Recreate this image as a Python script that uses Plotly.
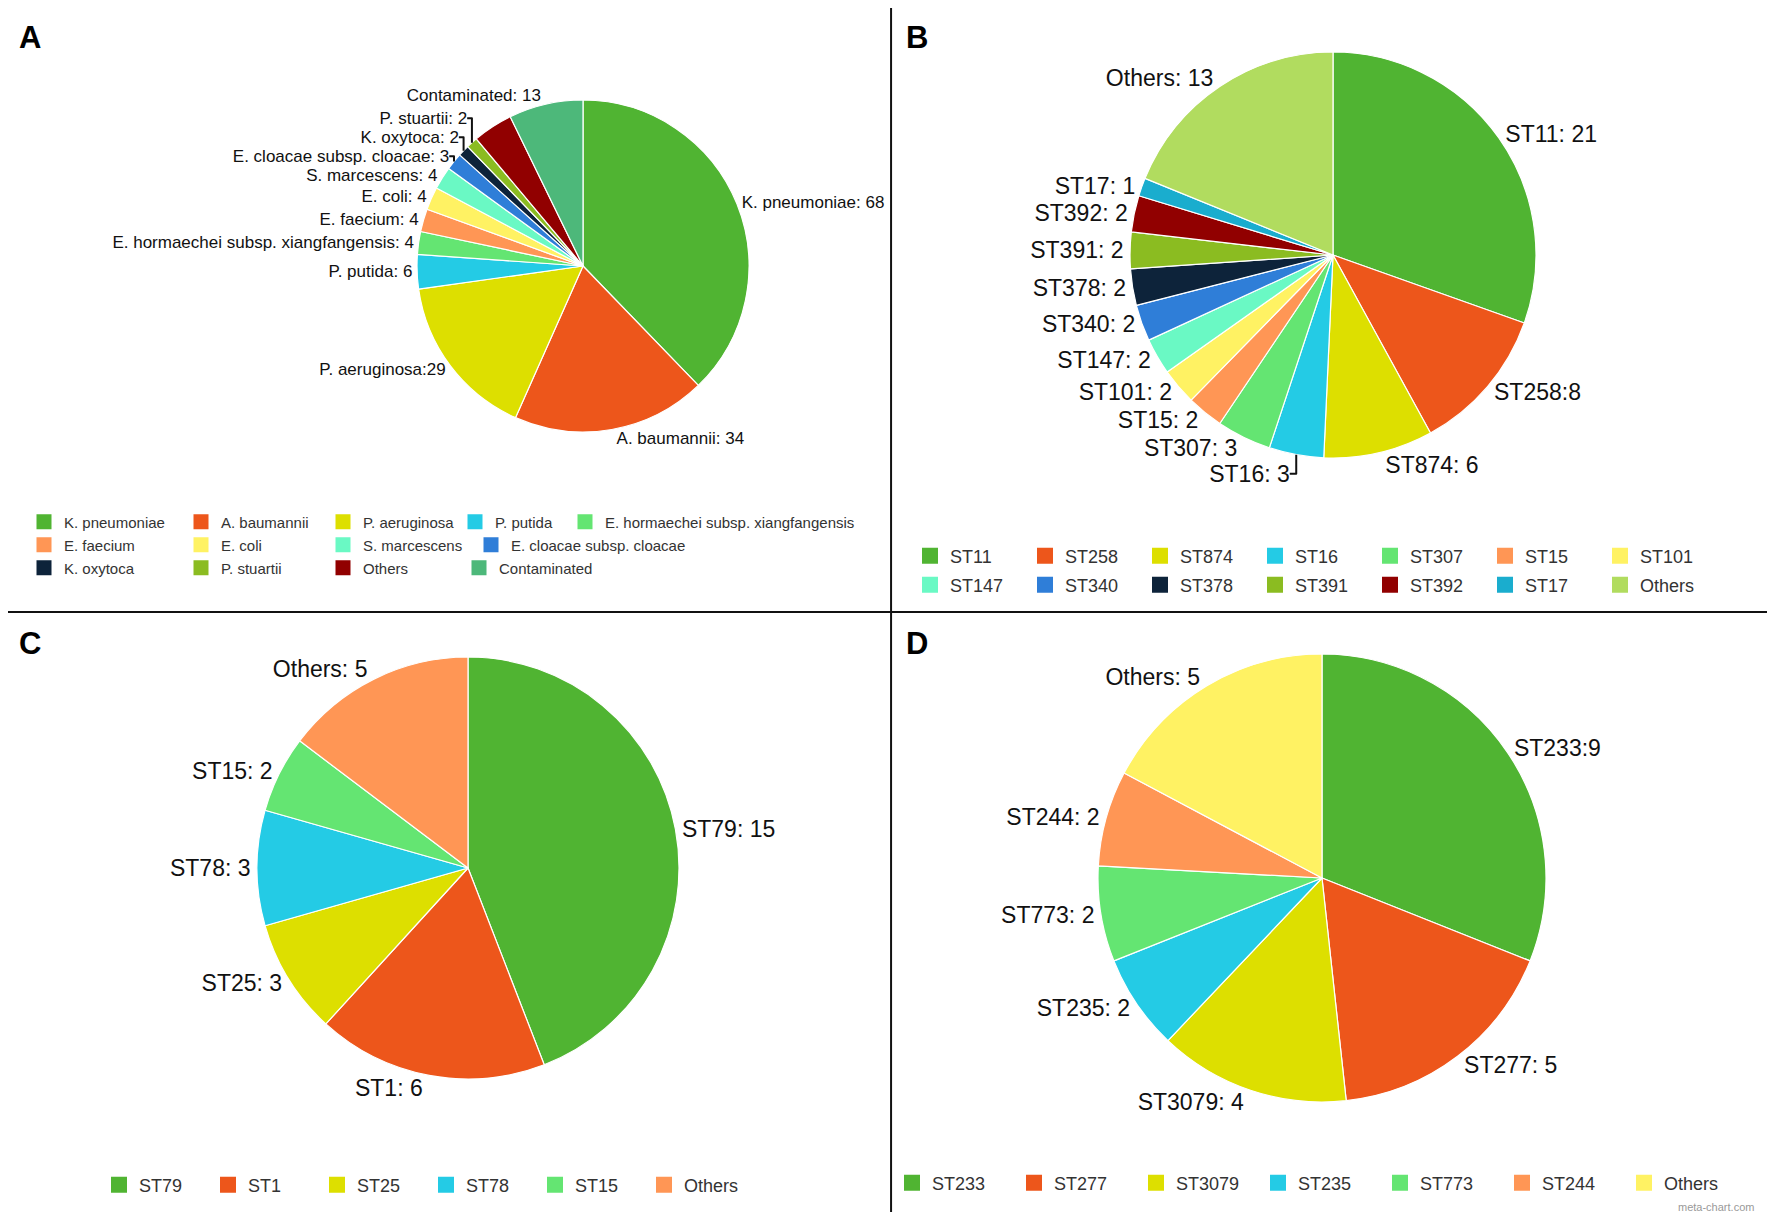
import plotly.graph_objects as go

FONT = "Liberation Sans, Arial, Helvetica, sans-serif"

# panel A: isolates by species
species = ["K. pneumoniae", "A. baumannii", "P. aeruginosa", "P. putida",
           "E. hormaechei subsp. xiangfangensis", "E. faecium", "E. coli",
           "S. marcescens", "E. cloacae subsp. cloacae", "K. oxytoca",
           "P. stuartii", "Others", "Contaminated"]
species_n = [68, 34, 29, 6, 4, 4, 4, 4, 3, 2, 2, 7, 13]
species_colors = ["#50B432", "#ED561B", "#DDDF00", "#24CBE5", "#64E572",
                  "#FF9655", "#FFF263", "#6AF9C4", "#2F7ED8", "#0D233A",
                  "#8BBC21", "#910000", "#4DB87A"]

# panel B: K. pneumoniae sequence types
kp_st = ["ST11", "ST258", "ST874", "ST16", "ST307", "ST15", "ST101",
         "ST147", "ST340", "ST378", "ST391", "ST392", "ST17", "Others"]
kp_n = [21, 8, 6, 3, 3, 2, 2, 2, 2, 2, 2, 2, 1, 13]
kp_colors = ["#50B432", "#ED561B", "#DDDF00", "#24CBE5", "#64E572",
             "#FF9655", "#FFF263", "#6AF9C4", "#2F7ED8", "#0D233A",
             "#8BBC21", "#910000", "#1AADCE", "#B1DC5F"]

# panel C: A. baumannii sequence types
ab_st = ["ST79", "ST1", "ST25", "ST78", "ST15", "Others"]
ab_n = [15, 6, 3, 3, 2, 5]
ab_colors = ["#50B432", "#ED561B", "#DDDF00", "#24CBE5", "#64E572", "#FF9655"]

# panel D: P. aeruginosa sequence types
pa_st = ["ST233", "ST277", "ST3079", "ST235", "ST773", "ST244", "Others"]
pa_n = [9, 5, 4, 2, 2, 2, 5]
pa_colors = ["#50B432", "#ED561B", "#DDDF00", "#24CBE5", "#64E572",
             "#FF9655", "#FFF263"]


def label_templates(names, tight=(), hidden=()):
    out = []
    for n in names:
        if n in hidden:
            out.append("")
        elif n in tight:
            out.append("%{label}:%{value}")
        else:
            out.append("%{label}: %{value}")
    return out


W, H = 1775, 1212


def px_domain(cx, cy, r):
    return dict(x=[(cx - r) / W, (cx + r) / W], y=[1 - (cy + r) / H, 1 - (cy - r) / H])


fig = go.Figure()

pies = [
    (species, species_n, species_colors, label_templates(species, ["P. aeruginosa"], ["Others"]),
     px_domain(575, 258, 166), 17),
    (kp_st, kp_n, kp_colors, label_templates(kp_st, ["ST258"]), px_domain(1325, 247, 203), 23),
    (ab_st, ab_n, ab_colors, label_templates(ab_st), px_domain(460, 860, 211), 23),
    (pa_st, pa_n, pa_colors, label_templates(pa_st, ["ST233"]), px_domain(1314, 870, 224), 23),
]
for names, vals, cols, tmpl, dom, fs in pies:
    fig.add_trace(go.Pie(
        labels=names, values=vals, sort=False, direction="clockwise", rotation=0,
        marker=dict(colors=cols, line=dict(color="white", width=1.2)),
        textposition="outside", texttemplate=tmpl,
        outsidetextfont=dict(family=FONT, size=fs, color="#111"),
        domain=dom, showlegend=False, hoverinfo="label+value",
    ))

# legends: one plotly legend per row so each panel wraps like the original
legend_rows = [
    (species, species_colors, [5, 4, 4], 15),
    (kp_st, kp_colors, [7, 7], 18),
    (ab_st, ab_colors, [6], 18),
    (pa_st, pa_colors, [7], 18),
]
# (left px, row centre px, entry width, font size, per-item widths for panel A columns)
legend_place = [
    [(16, 514, 0, 15, [112, 97, 87, 65, 0]),
     (16, 537, 0, 15, [112, 97, 103, 0]),
     (16, 560, 0, 15, [112, 97, 91, 0])],
    [(902, 548, 70, 18, None), (902, 577, 70, 18, None)],
    [(91, 1177, 64, 18, None)],
    [(884, 1175, 77, 18, None)],
]

k = 0
layout_legends = {}
for (names, cols, rows, msize), places in zip(legend_rows, legend_place):
    i = 0
    for count, (lx, ly, ew, lfs, widths) in zip(rows, places):
        k += 1
        lid = "legend" if k == 1 else f"legend{k}"
        for j, (name, col) in enumerate(zip(names[i:i + count], cols[i:i + count])):
            extra = {}
            if widths and widths[j]:
                extra["legendwidth"] = widths[j]
            fig.add_trace(go.Scatter(
                x=[None], y=[None], mode="markers", name=name, legend=lid,
                marker=dict(symbol="square", size=msize, color=col),
                showlegend=True, hoverinfo="skip", **extra,
            ))
        i += count
        layout_legends[lid] = dict(
            orientation="h", x=lx / W, y=1 - ly / H, xanchor="left", yanchor="middle",
            font=dict(family=FONT, size=lfs, color="#333"), bgcolor="rgba(0,0,0,0)",
            entrywidth=ew, entrywidthmode="pixels", itemclick=False,
        )

panel_letters = [("A", 9, 10), ("B", 896, 10), ("C", 9, 616), ("D", 896, 616)]
annotations = [
    dict(text=f"<b>{t}</b>", x=x / W, y=1 - y / H, xref="paper", yref="paper",
         xanchor="left", yanchor="top", showarrow=False,
         font=dict(family=FONT, size=31, color="#000"))
    for t, x, y in panel_letters
]
annotations.append(dict(text="meta-chart.com", x=0.985, y=0.004, xref="paper", yref="paper",
                        xanchor="right", yanchor="bottom", showarrow=False,
                        font=dict(family=FONT, size=11, color="#999")))

fig.update_layout(
    width=W, height=H,
    margin=dict(l=0, r=0, t=0, b=0),
    paper_bgcolor="white", plot_bgcolor="white",
    xaxis=dict(visible=False), yaxis=dict(visible=False),
    annotations=annotations,
    shapes=[
        dict(type="line", xref="paper", yref="paper", x0=0.4975, x1=0.4975, y0=0.004, y1=1,
             line=dict(color="#111", width=2)),
        dict(type="line", xref="paper", yref="paper", x0=0, x1=1, y0=0.5017, y1=0.5017,
             line=dict(color="#111", width=2)),
    ],
    **layout_legends,
)

fig.write_html("out.html")
